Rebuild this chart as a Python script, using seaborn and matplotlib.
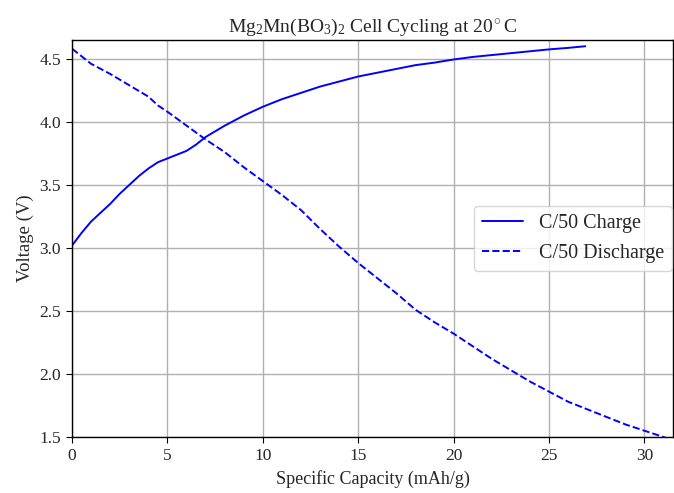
import matplotlib
matplotlib.use("Agg")
import matplotlib.pyplot as plt
import seaborn as sns
import pandas as pd

charge_x = [0, 0.5, 1, 1.5, 2, 2.5, 3, 3.5, 4, 4.5, 5, 5.5, 6, 6.5, 7, 8, 9, 10, 11, 12, 13,
            14, 15, 16, 17, 18, 19, 20, 21, 22, 23, 24, 25, 26, 26.9]
charge_v = [3.02, 3.12, 3.21, 3.28, 3.35, 3.43, 3.50, 3.57, 3.63, 3.68, 3.71, 3.74, 3.77,
            3.82, 3.88, 3.97, 4.05, 4.12, 4.18, 4.23, 4.28, 4.32, 4.36, 4.39, 4.42, 4.45,
            4.47, 4.495, 4.515, 4.53, 4.545, 4.56, 4.575, 4.587, 4.60]

dis_x = [0, 0.5, 1, 2, 3, 4, 4.5, 5, 6, 7, 8, 9, 10, 11, 12, 13, 14, 15, 16, 17, 18, 19,
         20, 21, 22, 23, 24, 25, 26, 27, 28, 29, 30, 31, 31.5]
dis_v = [4.58, 4.52, 4.46, 4.38, 4.29, 4.20, 4.13, 4.08, 3.97, 3.86, 3.76, 3.64, 3.53,
         3.42, 3.30, 3.15, 3.01, 2.88, 2.76, 2.64, 2.51, 2.41, 2.32, 2.22, 2.12, 2.03,
         1.94, 1.86, 1.78, 1.72, 1.66, 1.60, 1.55, 1.50, 1.47]

labels = ["C/50 Charge", "C/50 Discharge"]

sns.set_style("ticks")
plt.rcParams["font.family"] = ["Liberation Serif", "DejaVu Serif"]
plt.rcParams["mathtext.fontset"] = "custom"
plt.rcParams["mathtext.rm"] = "Liberation Serif"
plt.rcParams["mathtext.it"] = "Liberation Serif:italic"

fig = plt.figure(figsize=(6.74, 4.93), dpi=100)
ax = fig.add_axes([0.107, 0.1136, 0.8915, 0.8054])

df_c = pd.DataFrame({"x": charge_x, "v": charge_v})
df_d = pd.DataFrame({"x": dis_x, "v": dis_v})
sns.lineplot(data=df_c, x="x", y="v", ax=ax, color="blue", lw=1.4, label=labels[0])
sns.lineplot(data=df_d, x="x", y="v", ax=ax, color="blue", lw=1.4, linestyle="--",
             label=labels[1])

ax.set_xlim(0, 31.5)
ax.set_ylim(1.5, 4.65)
ax.set_xticks([0, 5, 10, 15, 20, 25, 30])
ax.set_yticks([1.5, 2.0, 2.5, 3.0, 3.5, 4.0, 4.5])
ax.grid(True, color="#b0b0b0", lw=1.0)
for s in ax.spines.values():
    s.set_color("black")
    s.set_linewidth(1.0)
ax.tick_params(labelsize=12.5, color="black", length=4.5)
ax.set_xlabel("Specific Capacity (mAh/g)", fontsize=13)
ax.set_ylabel("Voltage (V)", fontsize=13.5)
ax.set_title(r"Mg$_2$Mn(BO$_3$)$_2$ Cell Cycling at 20$^\circ$C", fontsize=14)
ax.legend(loc="center right", fontsize=14.5, borderaxespad=0.05)

fig.savefig("out.png", dpi=100)
